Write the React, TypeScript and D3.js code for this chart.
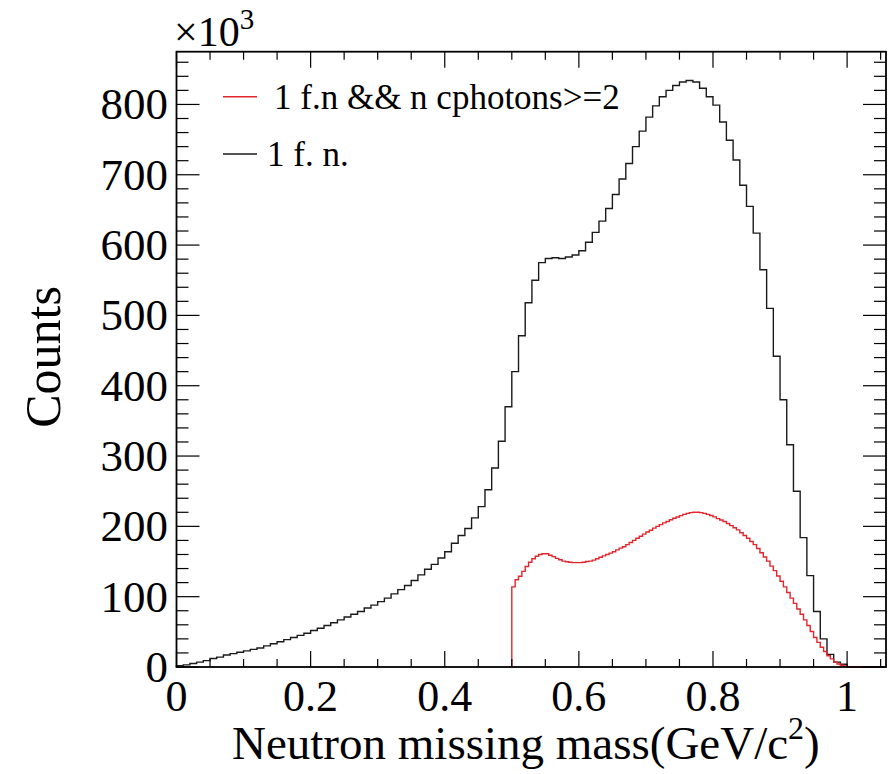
import React from "react";
import * as d3 from "d3";

// Histogram "1 f. n." : bins of 0.01 GeV/c^2 starting at 0, counts in units of 10^3
const allBinStart = 0;
const allBinWidth = 0.01;
const allCounts = [
  2, 3, 5, 7, 9, 12, 14, 17, 19, 21,
  23, 25, 27, 30, 33, 36, 39, 42, 45, 48,
  52, 55, 59, 63, 67, 71, 75, 79, 84, 88,
  93, 98, 104, 110, 116, 123, 131, 139, 146, 155,
  164, 176, 187, 197, 212, 228, 252, 283, 321, 370,
  420, 471, 518, 550, 575, 581, 582, 581, 583, 586,
  592, 604, 618, 634, 652, 672, 694, 716, 740, 762,
  782, 798, 811, 820, 827, 832, 834, 832, 823, 811,
  799, 775, 749, 721, 685, 655, 617, 565, 510, 442,
  380, 316, 250, 184, 130, 79, 40, 18, 7, 4,
];

// Histogram "1 f.n && n cphotons>=2" : bins of 0.005 GeV/c^2 starting at 0.5
const photonBinStart = 0.5;
const photonBinWidth = 0.005;
const photonCounts = [
  114, 124, 129, 136, 143, 149, 154, 157.5, 160, 161,
  161, 159, 157, 154.5, 152.5, 150.5, 149.7, 149, 148.4, 148.4,
  148.4, 149, 150, 150.6, 152, 154, 156, 158, 160, 162,
  164, 166.5, 169, 171, 174, 177, 180, 183, 186, 189,
  192, 194.5, 197.5, 200, 202.5, 205, 207, 209.5, 211.5, 213.4,
  215.3, 217, 218.5, 219.5, 220, 220, 219.5, 218.5, 217, 215.5,
  213.5, 211, 209, 207, 204, 201, 198, 195, 191, 187,
  183, 178.5, 174, 168.5, 162.5, 156.5, 150.5, 143.5, 137, 129.5,
  122, 114, 106, 98, 90.5, 82.5, 75, 67, 59, 50.5,
  42, 35, 28, 22, 16, 11.5, 7, 4.3, 2.4, 1.5,
  0, 0, 0, 0, 0, 0, 0, 0, 0, 0, 0,
];

const xMajorTicks = [0, 0.2, 0.4, 0.6, 0.8, 1];
const xTickLabels = ["0", "0.2", "0.4", "0.6", "0.8", "1"];
const yMajorTicks = [0, 100, 200, 300, 400, 500, 600, 700, 800];
const yTickLabels = ["0", "100", "200", "300", "400", "500", "600", "700", "800"];

const legendEntries = ["1 f.n && n cphotons>=2", "1 f. n."];

const W = 895;
const H = 774;
const frame = { left: 176.5, right: 886, top: 51.7, bottom: 667 };
const FONT = "'Liberation Serif', 'Times New Roman', serif";

function stepPoints(start: number, width: number, counts: number[]): [number, number][] {
  const pts: [number, number][] = [[start, 0]];
  counts.forEach((v, i) => pts.push([start + i * width, v]));
  pts.push([start + counts.length * width, 0]);
  return pts;
}

export default function App() {
  const x = d3.scaleLinear().domain([0, 1.058]).range([frame.left, frame.right]);
  const y = d3.scaleLinear().domain([0, 875]).range([frame.bottom, frame.top]);

  const line = d3
    .line<[number, number]>()
    .x((d) => x(d[0]))
    .y((d) => y(d[1]))
    .curve(d3.curveStepAfter);

  const allPath = line(stepPoints(allBinStart, allBinWidth, allCounts)) || "";
  const photonPath = line(stepPoints(photonBinStart, photonBinWidth, photonCounts)) || "";

  const xMinor = d3.range(0, 1.0581, 0.05).filter((v) => v <= 1.058);
  const yMinor = d3.range(0, 875, 20);

  const axisColor = "#000";
  const red = "#e3262d";

  return (
    <svg
      width={W}
      height={H}
      viewBox={`0 0 ${W} ${H}`}
      style={{ position: "absolute", left: 0, top: 0, background: "#fff" }}
    >
      <rect x={0} y={0} width={W} height={H} fill="#fff" />

      {/* histograms */}
      <path d={allPath} fill="none" stroke="#1a1a1a" strokeWidth={1.4} />
      <path d={photonPath} fill="none" stroke={red} strokeWidth={1.4} />

      {/* ticks on all four sides */}
      <g stroke={axisColor} strokeWidth={1.2}>
        {xMinor.map((v, i) => {
          const major = xMajorTicks.some((m) => Math.abs(m - v) < 1e-6);
          const len = major ? 16 : 8;
          return (
            <g key={`xt${i}`}>
              <line x1={x(v)} x2={x(v)} y1={frame.bottom} y2={frame.bottom - len} />
              <line x1={x(v)} x2={x(v)} y1={frame.top} y2={frame.top + len} />
            </g>
          );
        })}
        {yMinor.map((v, i) => {
          const major = v % 100 === 0;
          const len = major ? 23 : 12;
          return (
            <g key={`yt${i}`}>
              <line x1={frame.left} x2={frame.left + len} y1={y(v)} y2={y(v)} />
              <line x1={frame.right} x2={frame.right - len} y1={y(v)} y2={y(v)} />
            </g>
          );
        })}
      </g>

      {/* frame */}
      <rect
        x={frame.left}
        y={frame.top}
        width={frame.right - frame.left}
        height={frame.bottom - frame.top}
        fill="none"
        stroke={axisColor}
        strokeWidth={1.8}
      />

      {/* tick labels */}
      <g fontFamily={FONT} fontSize={44} fill="#000">
        {xMajorTicks.map((v, i) => (
          <text key={`xl${i}`} x={x(v)} y={711} textAnchor="middle">
            {xTickLabels[i]}
          </text>
        ))}
      </g>
      <g fontFamily={FONT} fontSize={45} fill="#000">
        {yMajorTicks.map((v, i) => (
          <text key={`yl${i}`} x={168} y={y(v) + 15} textAnchor="end">
            {yTickLabels[i]}
          </text>
        ))}
      </g>

      {/* exponent */}
      <text x={174} y={46} fontFamily={FONT} fontSize={42} fill="#000">
        ×10
        <tspan fontSize={29} dy={-17}>3</tspan>
      </text>

      {/* axis titles */}
      <text x={232} y={759} fontFamily={FONT} fontSize={47} fill="#000">
        Neutron missing mass(GeV/c
        <tspan fontSize={32} dy={-20}>2</tspan>
        <tspan dy={20}>)</tspan>
      </text>
      <text
        transform={`translate(60, 357) rotate(-90)`}
        textAnchor="middle"
        fontFamily={FONT}
        fontSize={50}
        fill="#000"
      >
        Counts
      </text>

      {/* legend */}
      <g fontFamily={FONT} fontSize={35} fill="#000">
        <line x1={223} x2={257} y1={96.7} y2={96.7} stroke={red} strokeWidth={1.4} />
        <text x={274} y={109}>{legendEntries[0]}</text>
        <line x1={223} x2={257} y1={154} y2={154} stroke="#1a1a1a" strokeWidth={1.4} />
        <text x={267} y={166}>{legendEntries[1]}</text>
      </g>
    </svg>
  );
}
